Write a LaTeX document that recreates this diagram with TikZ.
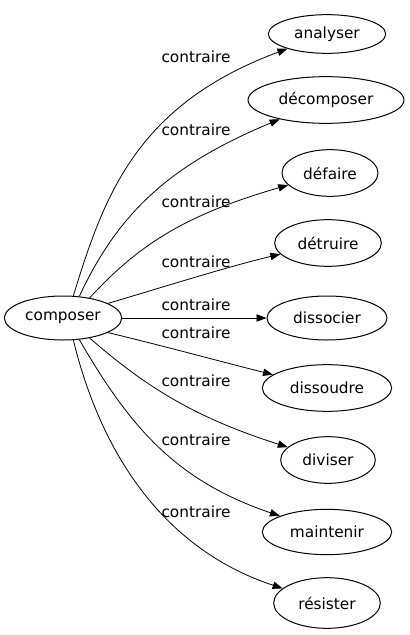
\documentclass[tikz,border=0pt]{standalone}
\usepackage{fontspec}
\setmainfont{DejaVu Sans}
\usepackage{tikz}
\usetikzlibrary{arrows.meta,shapes.geometric}
\tikzset{
  cn diagram/.style={font=\fontsize{11.5pt}{13pt}\selectfont, text=black,
    line join=round},
  cn word/.style={draw, ellipse, line width=0.75pt, inner sep=0pt,
    minimum height=33pt},
  cn arrow/.style={-{Triangle[length=7.5pt,width=5.5pt]}, line width=0.6pt},
  cn label/.style={inner sep=1pt}
}
\begin{document}
\begin{tikzpicture}[cn diagram,x=0.75pt,y=-0.75pt]
\useasboundingbox (0,0) rectangle (410,635);
% source word
\node[cn word,minimum width=88pt] (composer) at (63,318) {composer};
% opposites
\node[cn word,minimum width=88pt,minimum height=29pt] (analyser) at (327,34) {analyser};
\node[cn word,minimum width=117pt,minimum height=35pt] (decomposer) at (326,100) {décomposer};
\node[cn word,minimum width=72pt,minimum height=35pt] (defaire) at (330,173) {défaire};
\node[cn word,minimum width=80pt,minimum height=35pt] (detruire) at (328,243) {détruire};
\node[cn word,minimum width=90pt,minimum height=33pt] (dissocier) at (327,318) {dissocier};
\node[cn word,minimum width=97pt,minimum height=35pt] (dissoudre) at (327,388) {dissoudre};
\node[cn word,minimum width=71pt,minimum height=35pt] (diviser) at (328,460) {diviser};
\node[cn word,minimum width=97pt,minimum height=34pt] (maintenir) at (327,532) {maintenir};
\node[cn word,minimum width=80pt,minimum height=38pt] (resister) at (327,603) {résister};
% edges
\draw[cn arrow] (composer.65) .. controls (104,196) and (136,105) .. (analyser);
\draw[cn arrow] (composer.53) .. controls (119,211) and (172,164) .. (decomposer);
\draw[cn arrow] (composer.37) .. controls (140,243) and (188,214) .. (defaire);
\draw[cn arrow] (composer.18) .. controls (160,288) and (230,266) .. (detruire);
\draw[cn arrow] (composer) -- (dissocier);
\draw[cn arrow] (composer.-18) .. controls (160,345) and (230,364) .. (dissoudre);
\draw[cn arrow] (composer.-37) .. controls (145,386) and (193,417) .. (diviser);
\draw[cn arrow] (composer.-53) .. controls (131,429) and (177,481) .. (maintenir);
\draw[cn arrow] (composer.-65) .. controls (105,469) and (175,553) .. (resister);
% labels
\node[cn label] (l1) at (196,57) {contraire};
\node[cn label] (l2) at (196,130) {contraire};
\node[cn label] (l3) at (196,202) {contraire};
\node[cn label] (l4) at (196,262) {contraire};
\node[cn label] (l5) at (196,305) {contraire};
\node[cn label] (l6) at (196,333) {contraire};
\node[cn label] (l7) at (196,381) {contraire};
\node[cn label] (l8) at (196,440) {contraire};
\node[cn label] (l9) at (196,512) {contraire};
\end{tikzpicture}
\end{document}
